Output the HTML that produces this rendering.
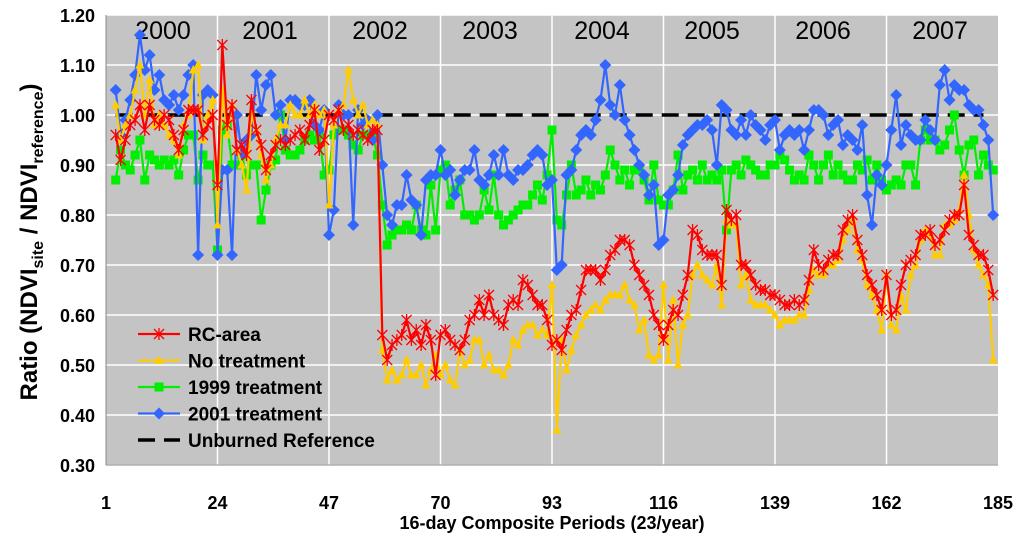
<!DOCTYPE html>
<html><head><meta charset="utf-8"><style>
body{margin:0;background:#fff;}
svg{display:block;font-family:"Liberation Sans",Arial,sans-serif;}
</style></head><body>
<svg id="chart" width="1024" height="545"></svg>
<script>
const yearLabels=["2000","2001","2002","2003","2004","2005","2006","2007"];
const yearLabelX=[163,270,380,490,602,712,823,940];
const xTicks=[1,24,47,70,93,116,139,162,185];
const yTicks=[0.30,0.40,0.50,0.60,0.70,0.80,0.90,1.00,1.10,1.20];
const startPeriod=3;
const rcArea=[0.96,0.91,0.95,0.98,0.99,1.02,0.97,1.02,0.99,0.98,1.00,0.99,0.96,0.93,0.97,1.01,1.01,1.01,0.96,0.98,1.00,0.86,
1.14,0.98,1.02,0.93,0.94,0.92,1.03,0.97,0.94,0.89,0.92,0.94,0.95,0.94,0.95,0.96,0.97,0.95,0.98,1.01,0.93,0.95,1.00,
0.99,1.01,0.97,0.98,0.96,0.97,0.96,0.95,0.97,0.97,0.56,0.51,0.54,0.55,0.56,0.59,0.55,0.57,0.54,0.58,0.55,0.48,0.56,
0.57,0.55,0.54,0.53,0.55,0.59,0.60,0.63,0.60,0.64,0.60,0.59,0.58,0.62,0.63,0.62,0.67,0.66,0.64,0.62,0.62,0.59,0.54,
0.55,0.53,0.57,0.60,0.61,0.65,0.69,0.69,0.69,0.67,0.69,0.72,0.73,0.75,0.75,0.74,0.70,0.68,0.66,0.64,0.60,0.58,0.55,
0.58,0.61,0.60,0.64,0.68,0.77,0.76,0.73,0.72,0.72,0.72,0.66,0.81,0.79,0.80,0.70,0.70,0.68,0.66,0.65,0.65,0.64,0.64,
0.63,0.62,0.62,0.63,0.62,0.63,0.67,0.73,0.70,0.69,0.71,0.72,0.72,0.77,0.79,0.80,0.75,0.72,0.68,0.66,0.64,0.61,0.68,
0.60,0.61,0.66,0.70,0.71,0.72,0.76,0.76,0.77,0.74,0.75,0.77,0.79,0.80,0.80,0.86,0.76,0.74,0.72,0.72,0.69,0.64];
const noTreatment=[1.02,0.95,0.98,1.00,1.05,1.10,1.00,1.07,0.98,1.00,0.98,0.96,0.95,0.92,0.98,1.00,1.09,1.10,0.95,1.00,1.03,0.78,
1.05,0.96,1.02,0.93,0.90,0.85,1.00,0.97,0.92,0.87,0.90,0.95,0.98,0.98,1.02,1.00,1.00,1.03,1.00,1.02,1.00,1.01,0.82,
0.98,1.01,1.02,1.09,1.03,1.00,1.02,0.98,0.99,0.98,0.53,0.47,0.49,0.47,0.48,0.51,0.48,0.48,0.50,0.46,0.49,0.52,0.48,
0.50,0.47,0.46,0.53,0.50,0.51,0.55,0.55,0.50,0.52,0.49,0.49,0.48,0.50,0.55,0.54,0.57,0.58,0.58,0.56,0.57,0.56,0.66,
0.37,0.55,0.49,0.53,0.56,0.58,0.60,0.61,0.62,0.61,0.63,0.64,0.64,0.64,0.66,0.63,0.62,0.57,0.59,0.52,0.51,0.52,0.66,
0.51,0.63,0.50,0.58,0.60,0.68,0.70,0.68,0.67,0.66,0.70,0.62,0.79,0.78,0.78,0.66,0.68,0.63,0.62,0.62,0.62,0.61,0.60,
0.58,0.59,0.59,0.59,0.60,0.60,0.65,0.69,0.68,0.68,0.70,0.70,0.71,0.75,0.77,0.79,0.73,0.71,0.66,0.64,0.61,0.57,0.68,
0.58,0.57,0.64,0.61,0.68,0.70,0.75,0.77,0.76,0.72,0.72,0.78,0.78,0.79,0.81,0.88,0.80,0.73,0.70,0.68,0.66,0.51];
const treat1999=[0.87,0.93,0.90,0.89,0.92,0.95,0.87,0.92,0.91,0.90,0.91,0.90,0.91,0.88,0.93,0.96,0.96,0.87,0.92,0.90,0.90,0.73,
0.97,0.98,0.90,0.90,0.92,0.88,0.90,0.90,0.79,0.85,0.90,0.91,1.00,0.93,0.92,0.92,0.93,0.95,0.96,0.95,0.96,0.88,0.89,
0.96,0.97,0.97,0.96,0.94,0.93,0.96,0.96,0.96,0.92,0.82,0.74,0.76,0.77,0.77,0.78,0.77,0.82,0.77,0.76,0.86,0.77,0.89,
0.90,0.82,0.85,0.87,0.80,0.80,0.79,0.80,0.85,0.81,0.88,0.80,0.78,0.79,0.80,0.81,0.82,0.82,0.84,0.86,0.83,0.88,0.97,
0.79,0.78,0.84,0.90,0.84,0.85,0.87,0.84,0.86,0.85,0.88,0.93,0.90,0.87,0.89,0.86,0.89,0.89,0.87,0.83,0.90,0.83,0.82,
0.82,0.85,0.92,0.85,0.88,0.89,0.87,0.90,0.87,0.88,0.87,0.89,0.77,0.89,0.90,0.88,0.91,0.90,0.89,0.88,0.88,0.90,0.90,
0.92,0.91,0.89,0.87,0.88,0.87,0.92,0.90,0.87,0.90,0.92,0.88,0.90,0.88,0.87,0.87,0.90,0.89,0.91,0.87,0.90,0.87,0.85,
0.86,0.87,0.86,0.90,0.90,0.86,0.95,0.97,0.95,0.95,0.93,0.94,0.97,1.00,0.93,0.88,0.94,0.95,0.88,0.92,0.90,0.89];
const treat2001=[1.05,0.96,0.99,1.03,1.08,1.16,1.09,1.12,1.05,1.08,1.03,1.02,1.04,1.01,1.04,1.08,1.10,0.72,1.04,1.05,1.04,0.72,
0.89,0.89,0.72,1.00,0.92,0.95,0.96,1.08,1.01,1.06,1.08,1.00,1.02,0.95,1.03,1.03,1.02,1.02,1.03,0.98,0.97,1.01,0.76,
0.81,1.02,1.00,1.00,0.78,1.01,0.98,0.99,0.95,1.00,0.90,0.80,0.78,0.82,0.82,0.88,0.83,0.82,0.76,0.87,0.88,0.88,0.93,
0.88,0.89,0.84,0.87,0.89,0.89,0.93,0.87,0.86,0.88,0.92,0.88,0.93,0.88,0.87,0.89,0.89,0.90,0.92,0.93,0.92,0.86,0.87,
0.69,0.70,0.88,0.89,0.93,0.96,0.97,0.96,0.99,1.03,1.10,1.02,1.00,1.06,0.99,0.96,0.93,0.90,0.88,0.84,0.86,0.74,0.75,
0.84,0.85,0.88,0.94,0.96,0.97,0.98,0.98,0.99,0.97,0.90,1.02,1.01,0.97,0.96,0.99,0.96,1.00,0.98,0.97,0.95,0.98,0.99,
0.93,0.96,0.97,0.96,0.97,0.93,0.97,1.01,1.01,1.00,0.96,0.98,0.99,0.94,0.96,0.95,0.93,0.98,0.84,0.78,0.88,0.86,0.90,
0.97,1.04,0.94,0.98,0.96,0.95,0.95,0.99,0.97,0.95,1.06,1.09,1.03,1.06,1.05,1.05,1.02,1.01,1.01,0.98,0.95,0.80];
const refValue=1.0;

const NS="http://www.w3.org/2000/svg";
const svg=document.getElementById('chart');
const L=106,R=998,T=15,B=465;
const xs=p=>L+(p-1)*(R-L)/184;
const ys=v=>T+(1.2-v)*(B-T)/0.9;
function mk(tag,attrs,parent){const e=document.createElementNS(NS,tag);for(const k in attrs)e.setAttribute(k,attrs[k]);(parent||svg).appendChild(e);return e;}

const bg=mk('rect',{x:L,y:T,width:R-L,height:B-T,fill:'#c4c4c4'});


yTicks.forEach(v=>{
  const g=mk('line',{x1:L,x2:R,y1:ys(v),y2:ys(v),stroke:'#fff','stroke-width':1.5});
  
  
  const t=mk('text',{x:L-11,y:ys(v)+7,'text-anchor':'end','font-size':18,'font-weight':'bold'});
  t.textContent=v.toFixed(2);
  
  
});
xTicks.forEach(p=>{
  if(p>1&&p<185){const g=mk('line',{x1:xs(p),x2:xs(p),y1:T,y2:B,stroke:'#fff','stroke-width':1.5});
  
  }
  const t=mk('text',{x:xs(p),y:B+44,'text-anchor':'middle','font-size':18,'font-weight':'bold'});
  t.textContent=p;
  
  
});
mk('line',{x1:L,x2:L,y1:T,y2:B,stroke:'#888','stroke-width':1});
mk('line',{x1:L,x2:R,y1:B,y2:B,stroke:'#888','stroke-width':1});
yearLabels.forEach((s,i)=>{
  const t=mk('text',{x:yearLabelX[i],y:39,'text-anchor':'middle','font-size':25});
  t.textContent=s;
  
  
});
const refLine=mk('line',{x1:xs(3),x2:xs(182),y1:ys(refValue),y2:ys(refValue),stroke:'#000','stroke-width':3.5,'stroke-dasharray':'17 9'});



function marker(type,x,y,color,g){
  if(type==='diamond') mk('polygon',{points:`${x},${y-6} ${x+6},${y} ${x},${y+6} ${x-6},${y}`,fill:color},g);
  else if(type==='square') mk('rect',{x:x-4.5,y:y-4.5,width:9,height:9,fill:color},g);
  else if(type==='tri') mk('polygon',{points:`${x},${y-5} ${x+4.5},${y+3.5} ${x-4.5},${y+3.5}`,fill:color},g);
  else {mk('path',{d:`M${x-5} ${y-5}L${x+5} ${y+5}M${x+5} ${y-5}L${x-5} ${y+5}M${x} ${y-6}L${x} ${y+6}`,stroke:color,'stroke-width':1.3,fill:'none'},g);}
}
function series(data,color,type,name){
  const g=mk('g',{});
  
  
  const pts=data.map((v,i)=>xs(startPeriod+i)+','+ys(v)).join(' ');
  mk('polyline',{points:pts,fill:'none',stroke:color,'stroke-width':2.2,'stroke-linejoin':'round'},g);
  data.forEach((v,i)=>marker(type,xs(startPeriod+i),ys(v),color,g));
}
series(treat1999,'#00ee00','square','series-1999-treatment');
series(treat2001,'#3366ff','diamond','series-2001-treatment');
series(noTreatment,'#ffcc00','tri','series-no-treatment');
series(rcArea,'#ff0000','star','series-rc-area');

const legend=[['RC-area','#ff0000','star'],['No treatment','#ffcc00','tri'],['1999 treatment','#00ee00','square'],['2001 treatment','#3366ff','diamond'],['Unburned Reference','#000','dash']];
legend.forEach((e,i)=>{
  const y=334+i*26.5;
  const g=mk('g',{});
  
  
  if(e[2]==='dash'){mk('line',{x1:138,x2:180,y1:y,y2:y,stroke:'#000','stroke-width':3.5,'stroke-dasharray':'17 9'},g);}
  else{mk('line',{x1:138,x2:180,y1:y,y2:y,stroke:e[1],'stroke-width':2.2},g);marker(e[2],159,y,e[1],g);}
  const t=mk('text',{x:188,y:y+7,'font-size':19,'font-weight':'bold'},g);
  t.textContent=e[0];
});
const xt=mk('text',{x:552,y:529,'text-anchor':'middle','font-size':18,'font-weight':'bold'});
xt.textContent='16-day Composite Periods (23/year)';


const yt=mk('text',{x:0,y:0,'text-anchor':'middle','font-size':24,'font-weight':'bold',transform:'translate(37,242) rotate(-90)'});
yt.innerHTML='Ratio  (NDVI<tspan font-size="16" dy="6">site</tspan><tspan dy="-6"> / NDVI</tspan><tspan font-size="16" dy="6">reference</tspan><tspan dy="-6">)</tspan>';


</script>
</body></html>
